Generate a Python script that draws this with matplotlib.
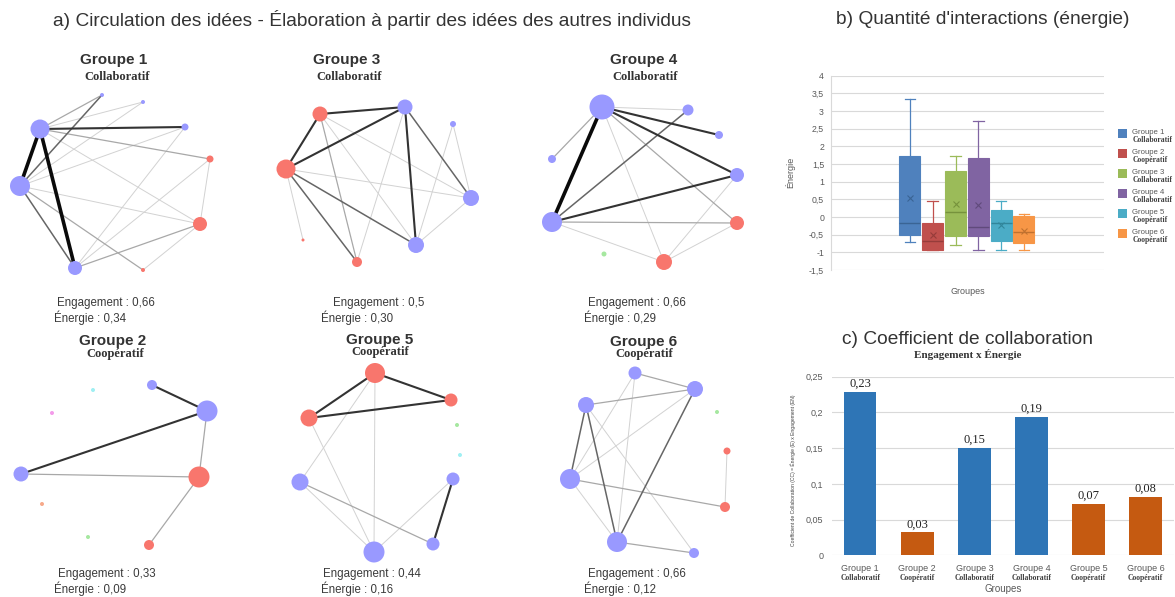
import matplotlib
matplotlib.use("Agg")
import matplotlib.pyplot as plt
from matplotlib.patches import Rectangle
import matplotlib.transforms as mtransforms

# ---------------- data ----------------
groups = ["Groupe 1", "Groupe 2", "Groupe 3", "Groupe 4", "Groupe 5", "Groupe 6"]
types = ["Collaboratif", "Coopératif", "Collaboratif", "Collaboratif", "Coopératif", "Coopératif"]
engagement_txt = ["0,66", "0,33", "0,5", "0,66", "0,44", "0,66"]
energie_txt = ["0,34", "0,09", "0,30", "0,29", "0,16", "0,12"]

# box plot (énergie)
box_whislo = [-0.70, -0.93, -0.80, -0.94, -0.94, -0.94]
box_q1 = [-0.50, -0.92, -0.55, -0.55, -0.69, -0.74]
box_med = [-0.17, -0.67, 0.14, -0.28, -0.16, -0.42]
box_q3 = [1.72, -0.17, 1.31, 1.66, 0.21, 0.02]
box_whishi = [3.35, 0.46, 1.72, 2.73, 0.46, 0.08]
box_mean = [0.55, -0.50, 0.36, 0.33, -0.23, -0.40]
box_colors = ["#4F81BD", "#C0504D", "#9BBB59", "#8064A2", "#4BACC6", "#F79646"]
box_dark = ["#3A6494", "#963C3A", "#76923C", "#604A7B", "#31869B", "#C0712F"]
energy_ticks = [-1.5, -1, -0.5, 0, 0.5, 1, 1.5, 2, 2.5, 3, 3.5, 4]
energy_ticklabels = ["-1,5", "-1", "-0,5", "0", "0,5", "1", "1,5", "2", "2,5", "3", "3,5", "4"]

# coefficient de collaboration
coef = [0.229, 0.032, 0.150, 0.194, 0.072, 0.082]
coef_colors = ["#2E75B6", "#C55A11", "#2E75B6", "#2E75B6", "#C55A11", "#C55A11"]
coef_ticks = [0, 0.05, 0.1, 0.15, 0.2, 0.25]
coef_ticklabels = ["0", "0,05", "0,1", "0,15", "0,2", "0,25"]

# networks: nodes (x, y, radius, colour key), edges (i, j, weight)
net_nodes = {
    "Groupe 1": [(40, 129, 9.5, "b"), (20, 186, 10, "b"), (75, 268, 7, "b"), (102, 95, 2, "b"),
                 (143, 102, 2, "b"), (185, 127, 3.5, "b"), (210, 159, 3.5, "r"), (200, 224, 7, "r"),
                 (143, 270, 2, "r")],
    "Groupe 3": [(320, 114, 7.5, "r"), (286, 169, 9.5, "r"), (405, 107, 7.5, "b"), (453, 124, 3, "b"),
                 (471, 198, 8, "b"), (416, 245, 8, "b"), (357, 262, 5, "r"), (303, 240, 1.5, "r")],
    "Groupe 4": [(602, 107, 12.5, "b"), (688, 110, 5.5, "b"), (719, 135, 4, "b"), (552, 159, 4, "b"),
                 (737, 175, 7, "b"), (552, 222, 10, "b"), (737, 223, 7, "r"), (664, 262, 8, "r"),
                 (604, 254, 2.5, "g")],
    "Groupe 2": [(152, 385, 5, "b"), (207, 411, 10.5, "b"), (21, 474, 7.5, "b"), (199, 477, 10.5, "r"),
                 (149, 545, 5, "r"), (93, 390, 2, "c"), (52, 413, 2, "p"), (42, 504, 2, "o"),
                 (88, 537, 2, "g")],
    "Groupe 5": [(375, 373, 10, "r"), (451, 400, 6.5, "r"), (309, 418, 8.5, "r"), (457, 425, 2, "g"),
                 (460, 455, 2, "c"), (453, 479, 6.5, "b"), (300, 482, 8.5, "b"), (433, 544, 6.5, "b"),
                 (374, 552, 10.5, "b")],
    "Groupe 6": [(635, 373, 6.5, "b"), (695, 389, 8, "b"), (586, 405, 8, "b"), (717, 412, 2, "g"),
                 (727, 451, 3.5, "r"), (570, 479, 10, "b"), (725, 507, 5, "r"), (617, 542, 10, "b"),
                 (694, 553, 5, "b")],
}
net_edges = {
    "Groupe 1": [(0, 1, 5), (0, 2, 5), (0, 5, 4), (0, 3, 2), (0, 4, 1), (0, 6, 2), (0, 7, 1), (1, 3, 3),
                 (1, 4, 1), (1, 5, 1), (1, 7, 1), (1, 2, 3), (1, 8, 2), (2, 5, 1), (2, 6, 1), (2, 7, 2),
                 (6, 7, 1), (7, 8, 1)],
    "Groupe 3": [(0, 2, 4), (0, 1, 4), (1, 2, 4), (2, 5, 4), (2, 4, 3), (2, 6, 1), (0, 6, 2), (0, 5, 1),
                 (0, 4, 1), (1, 4, 1), (1, 5, 3), (1, 6, 3), (1, 7, 1), (3, 4, 1), (3, 5, 1), (4, 5, 1)],
    "Groupe 4": [(0, 5, 5), (0, 1, 1), (0, 2, 4), (0, 4, 4), (0, 3, 2), (0, 6, 2), (0, 7, 1), (5, 1, 3),
                 (5, 4, 4), (5, 6, 2), (5, 7, 1), (4, 7, 1), (6, 7, 1)],
    "Groupe 2": [(0, 1, 4), (1, 2, 4), (1, 3, 2), (2, 3, 2), (3, 4, 2)],
    "Groupe 5": [(0, 1, 4), (0, 2, 4), (2, 1, 4), (0, 8, 1), (0, 6, 1), (2, 8, 1), (6, 8, 1), (6, 7, 2),
                 (5, 7, 4), (5, 8, 1)],
    "Groupe 6": [(0, 1, 2), (0, 5, 1), (0, 7, 1), (2, 1, 2), (2, 5, 3), (2, 7, 3), (2, 8, 1), (5, 1, 1),
                 (5, 7, 1), (5, 6, 2), (7, 1, 3), (7, 8, 2), (4, 6, 1)],
}
node_colors = {"b": "#9999FF", "r": "#F8766D", "g": "#A6E8A0", "c": "#9FEFF2", "p": "#F39BEA", "o": "#F7A98A"}
edge_styles = {1: ("#d2d2d2", 0.7), 2: ("#a8a8a8", 0.9), 3: ("#666666", 1.1), 4: ("#333333", 1.5),
               5: ("#0a0a0a", 2.6)}

# layout of network panels: title centre and text anchors (pixels)
panel_title = {"Groupe 1": (114, 60), "Groupe 3": (347, 60), "Groupe 4": (644, 60),
               "Groupe 2": (113, 341), "Groupe 5": (380, 340), "Groupe 6": (644, 342)}
panel_sub = {"Groupe 1": (117, 77), "Groupe 3": (349, 77), "Groupe 4": (645, 77),
             "Groupe 2": (115, 354), "Groupe 5": (380, 352), "Groupe 6": (644, 354)}
panel_eng = {"Groupe 1": (57, 303), "Groupe 3": (333, 303), "Groupe 4": (588, 303),
             "Groupe 2": (58, 574), "Groupe 5": (323, 574), "Groupe 6": (588, 574)}
panel_ene = {"Groupe 1": (54, 318), "Groupe 3": (321, 318), "Groupe 4": (584, 318),
             "Groupe 2": (54, 589), "Groupe 5": (321, 589), "Groupe 6": (584, 589)}

# ---------------- figure ----------------
W, H, DPI = 1175, 597, 100
fig = plt.figure(figsize=(W / DPI, H / DPI), dpi=DPI)
fig.patch.set_facecolor("white")
SANS = "Liberation Sans"
SERIF = "Liberation Serif"


def px_axes(x0, y0, x1, y1):
    return fig.add_axes([x0 / W, 1 - y1 / H, (x1 - x0) / W, (y1 - y0) / H])


# ---- a) networks ----
axn = px_axes(0, 0, 780, 597)
axn.set_xlim(0, 780)
axn.set_ylim(597, 0)
axn.axis("off")
for g in groups:
    nodes = net_nodes[g]
    for (i, j, w) in sorted(net_edges[g], key=lambda e: e[2]):
        col, lw = edge_styles[w]
        axn.plot([nodes[i][0], nodes[j][0]], [nodes[i][1], nodes[j][1]], color=col, lw=lw,
                 solid_capstyle="round", zorder=1 + w * 0.1)
    xs = [n[0] for n in nodes]
    ys = [n[1] for n in nodes]
    ss = [(2 * n[2] * 0.72) ** 2 for n in nodes]
    cs = [node_colors[n[3]] for n in nodes]
    axn.scatter(xs, ys, s=ss, c=cs, edgecolors="none", zorder=3)
    k = groups.index(g)
    tx, ty = panel_title[g]
    axn.text(tx, ty, g, ha="center", va="center", fontsize=11, fontweight="bold",
             family=SANS, color="#333333", zorder=5)
    sx, sy = panel_sub[g]
    axn.text(sx, sy, types[k], ha="center", va="center", fontsize=9,
             fontweight="bold", family=SERIF, color="#333333", zorder=5)
    ex, ey = panel_eng[g]
    axn.text(ex, ey, "Engagement : " + engagement_txt[k], ha="left", va="center",
             fontsize=8.3, family=SANS, color="#3a3a3a")
    ex, ey = panel_ene[g]
    axn.text(ex, ey, "Énergie : " + energie_txt[k], ha="left", va="center",
             fontsize=8.3, family=SANS, color="#3a3a3a")

fig.text(372 / W, 1 - 20 / H, "a) Circulation des idées - Élaboration à partir des idées des autres individus",
         ha="center", va="center", fontsize=13.8, family=SANS, color="#333333")

# ---- b) box plot ----
fig.text(983 / W, 1 - 20 / H, "b) Quantité d'interactions (énergie)", ha="center", va="center",
         fontsize=13.8, family=SANS, color="#333333")
axb = px_axes(831, 75.7, 1104, 270)
stats = []
for k in range(len(groups)):
    stats.append(dict(med=box_med[k], q1=box_q1[k], q3=box_q3[k], whislo=box_whislo[k],
                      whishi=box_whishi[k], mean=box_mean[k], fliers=[], label=groups[k]))
positions = list(range(1, len(groups) + 1))
bp = axb.bxp(stats, positions=positions, widths=0.92, patch_artist=True, showmeans=True,
             showfliers=False, manage_ticks=False)
for k in range(len(groups)):
    bp["boxes"][k].set(facecolor=box_colors[k], edgecolor=box_colors[k], linewidth=0.8)
    bp["medians"][k].set(color=box_dark[k], linewidth=1.0)
    for w in bp["whiskers"][2 * k:2 * k + 2]:
        w.set(color=box_colors[k], linewidth=0.9)
    for c in bp["caps"][2 * k:2 * k + 2]:
        c.set(color=box_colors[k], linewidth=0.9)
    bp["means"][k].set(marker="x", markeredgecolor=box_dark[k], markersize=5, markeredgewidth=0.8)
axb.set_xlim(-2.46, 9.51)
axb.set_ylim(-1.5, 4)
axb.set_yticks(energy_ticks)
axb.set_yticklabels(energy_ticklabels, fontsize=6.3, color="#595959", family=SANS)
axb.set_xticks([])
axb.tick_params(axis="y", length=0, pad=5)
axb.grid(axis="y", color="#d9d9d9", lw=0.8)
axb.set_axisbelow(True)
for s in ["top", "right", "bottom"]:
    axb.spines[s].set_visible(False)
axb.spines["left"].set_color("#d9d9d9")
axb.set_ylabel("Énergie", fontsize=6.5, color="#595959", family=SANS, labelpad=10)
axb.set_xlabel("Groupes", fontsize=6.5, color="#595959", family=SANS, labelpad=12)

# legend (manual)
axl = px_axes(1112, 120, 1175, 245)
axl.set_xlim(0, 63)
axl.set_ylim(125, 0)
axl.axis("off")
for k in range(len(groups)):
    yc = 13 + k * 20
    axl.add_patch(Rectangle((6, yc - 4.5), 9, 9, facecolor=box_colors[k], edgecolor="none"))
    axl.text(20, yc - 0.5, groups[k], fontsize=5.6, family=SANS, color="#595959", va="center", ha="left")
    axl.text(21, yc + 7, types[k], fontsize=5.5, family=SERIF, fontweight="bold", color="#404040",
             va="center", ha="left")

# ---- c) bar chart ----
fig.text(968 / W, 1 - 340 / H, "c) Coefficient de collaboration", ha="center", va="center",
         fontsize=13.8, family=SANS, color="#333333")
fig.text(968 / W, 1 - 355 / H, "Engagement x Énergie", ha="center", va="center",
         fontsize=8, family=SERIF, fontweight="bold", color="#333333")
axc = px_axes(831.7, 376.7, 1174, 555.3)
xs = list(range(len(groups)))
axc.bar(xs, coef, width=0.57, color=coef_colors, zorder=3)
for x, v in zip(xs, coef):
    axc.text(x, v + 0.003, f"{v:.2f}".replace(".", ","), ha="center", va="bottom", fontsize=9,
             family=SERIF, color="#222222", zorder=4)
axc.set_xlim(-0.5, 5.5)
axc.set_ylim(0, 0.25)
axc.set_yticks(coef_ticks)
axc.set_yticklabels(coef_ticklabels, fontsize=6.5, color="#595959", family=SANS)
axc.tick_params(axis="y", length=0, pad=6)
axc.set_xticks([])
axc.grid(axis="y", color="#d9d9d9", lw=0.8)
axc.set_axisbelow(True)
for s in ["top", "right", "left", "bottom"]:
    axc.spines[s].set_visible(False)
trans = mtransforms.blended_transform_factory(axc.transData, axc.transAxes)
for x, g, t in zip(xs, groups, types):
    axc.text(x, -0.075, g, transform=trans, ha="center", va="center", fontsize=6.5,
             family=SANS, color="#595959")
    axc.text(x, -0.125, t, transform=trans, ha="center", va="center", fontsize=5.5,
             family=SERIF, fontweight="bold", color="#404040")
axc.text(0.5 * 5, -0.19, "Groupes", transform=trans, ha="center", va="center", fontsize=7,
         family=SANS, color="#595959")
fig.text(793 / W, 1 - 470 / H, "Coefficient de Collaboration (CC) = Énergie (E) x Engagement (EN)",
         rotation=90, ha="center", va="center", fontsize=3.6, family=SANS, color="#404040")

fig.savefig("out.png", dpi=DPI, facecolor="white")
